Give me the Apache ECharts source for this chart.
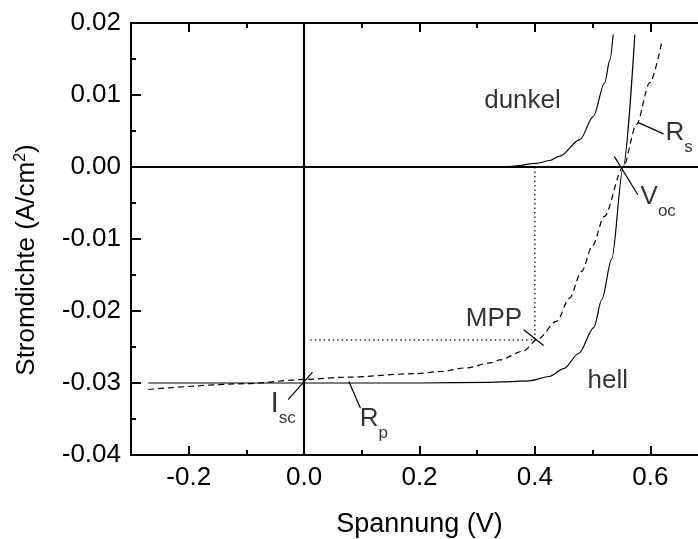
<!DOCTYPE html>
<html>
<head>
<meta charset="utf-8">
<script src="https://cdn.jsdelivr.net/npm/echarts@6/dist/echarts.min.js"></script>
<style>
    html, body { margin: 0; padding: 0; background: #ffffff; }
    #chart { width: 698px; height: 539px; }
</style>
</head>
<body>
<div id="chart"></div>
<script>
// Kennlinien, aus dem Bild abgelesen
// dunkel
var vDunkel = [0.34, 0.36, 0.403, 0.426, 0.443, 0.478, 0.501, 0.521, 0.530, 0.5356];
var jDunkel = [0.0, 0.0001, 0.0005, 0.0009, 0.0015, 0.0038, 0.0070, 0.0117, 0.0149, 0.0184];
// hell (ideal, durchgezogen)
var vHell = [-0.27, 0.0, 0.2, 0.32, 0.36, 0.39, 0.425, 0.45, 0.476, 0.502, 0.516, 0.533, 0.553, 0.5732];
var jHell = [-0.0300, -0.0300, -0.0300, -0.0299, -0.0298, -0.0297, -0.0291, -0.0280, -0.0259, -0.0223, -0.0184, -0.0128, 0.0, 0.0184];
// hell (real, gestrichelt)
var vReal = [-0.27, -0.1, 0.0, 0.071, 0.194, 0.2365, 0.281, 0.323, 0.339, 0.379, 0.405, 0.438, 0.46, 0.481, 0.50, 0.52, 0.553, 0.576, 0.599, 0.62];
var jReal = [-0.0309, -0.0301, -0.0295, -0.0292, -0.0287, -0.0284, -0.0279, -0.0272, -0.0268, -0.0256, -0.0239, -0.0214, -0.0182, -0.0145, -0.0109, -0.0069, 0.0, 0.0059, 0.0117, 0.0174];
// MPP Hilfslinien (gepunktet)
var vMpp = [0.40, 0.40, 0.01];
var jMpp = [0.0, -0.024, -0.024];

// Achsen
var xMajor = [-0.2, 0.0, 0.2, 0.4, 0.6];
var xMinor = [-0.1, 0.1, 0.3, 0.5, 0.7];

// Markierungsstriche [x1, y1, x2, y2]
var marker = [
    [-0.0276, -0.0323, 0.0146, -0.0285],   // Isc
    [0.0775, -0.0298, 0.0977, -0.0335],    // Rp
    [0.3805, -0.0226, 0.4152, -0.0248],    // MPP
    [0.5376, 0.00147, 0.5784, -0.00385],   // Voc
    [0.5784, 0.0062, 0.6229, 0.0046]       // Rs
];

// Beschriftungen
var labelText = ['dunkel', 'hell', 'MPP', '{b|R}{s|s}', '{b|V}{s|oc}', '{b|R}{s|p}', '{i|I}{t|sc}'];
var labelX = [0.3121, 0.4913, 0.2801, 0.6264, 0.5831, 0.0965, -0.0584];
var labelY = [0.01097, -0.0279, -0.01926, 0.00649, -0.00232, -0.0332, -0.03079];

function pairs(xs, ys) {
    return xs.map(function (x, i) { return [x, ys[i]]; });
}

var font = 'Liberation Sans';
var myChart = echarts.init(document.getElementById('chart'));

var tickBase = {
    type: 'value',
    min: -0.3,
    max: 0.7,
    interval: 0.1,
    splitLine: { show: false },
    axisLine: { show: true, onZero: false, lineStyle: { color: '#000', width: 2 } }
};

var option = {
    animation: false,
    backgroundColor: '#ffffff',
    grid: { left: 131, right: -10, top: 23, bottom: 84, outerBoundsMode: 'none', containLabel: false },
    xAxis: [
        Object.assign({}, tickBase, {
            position: 'bottom',
            name: 'Spannung (V)',
            nameLocation: 'middle',
            nameGap: 56,
            nameTextStyle: { fontFamily: font, fontSize: 27, color: '#000' },
            axisTick: { inside: true, length: 9, customValues: xMajor, lineStyle: { color: '#000', width: 2 } },
            axisLabel: {
                customValues: xMajor,
                margin: 10,
                fontFamily: font, fontSize: 26, color: '#000',
                formatter: function (v) { return v.toFixed(1); }
            }
        }),
        Object.assign({}, tickBase, {
            position: 'top',
            axisTick: { inside: true, length: 9, customValues: xMajor, lineStyle: { color: '#000', width: 2 } },
            axisLabel: { show: false }
        }),
        Object.assign({}, tickBase, {
            position: 'bottom',
            axisTick: { inside: true, length: 5, customValues: xMinor, lineStyle: { color: '#000', width: 2 } },
            axisLabel: { show: false }
        }),
        Object.assign({}, tickBase, {
            position: 'top',
            axisTick: { inside: true, length: 5, customValues: xMinor, lineStyle: { color: '#000', width: 2 } },
            axisLabel: { show: false }
        })
    ],
    yAxis: [{
        type: 'value',
        min: -0.04,
        max: 0.02,
        interval: 0.01,
        name: 'Stromdichte (A/cm{sup|2})',
        nameLocation: 'middle',
        nameGap: 90,
        nameTextStyle: {
            fontFamily: font, fontSize: 26, color: '#000',
            padding: [0, 42, 0, 0],
            rich: { sup: { fontFamily: font, fontSize: 16, verticalAlign: 'top', padding: [0, 0, 12, 0] } }
        },
        splitLine: { show: false },
        axisLine: { show: true, onZero: false, lineStyle: { color: '#000', width: 2 } },
        axisTick: { inside: true, length: 10, lineStyle: { color: '#000', width: 2 } },
        minorTick: { show: true, splitNumber: 2, length: 5, lineStyle: { color: '#000', width: 2 } },
        axisLabel: {
            margin: 10,
            fontFamily: font, fontSize: 26, color: '#000',
            formatter: function (v) { return v.toFixed(2); }
        }
    }],
    series: [
        {
            name: 'dunkel',
            type: 'line',
            data: pairs(vDunkel, jDunkel),
            showSymbol: false,
            smooth: 0.3,
            smoothMonotone: 'x',
            lineStyle: { color: '#000', width: 1.2 },
            // Nulllinien
            markLine: {
                silent: true,
                symbol: 'none',
                label: { show: false },
                lineStyle: { color: '#000', width: 2.2, type: 'solid' },
                data: [{ xAxis: 0 }, { yAxis: 0 }]
            },
            z: 3
        },
        {
            name: 'hell',
            type: 'line',
            data: pairs(vHell, jHell),
            showSymbol: false,
            smooth: 0.3,
            smoothMonotone: 'x',
            lineStyle: { color: '#000', width: 1.2 },
            z: 3
        },
        {
            name: 'hell real',
            type: 'line',
            data: pairs(vReal, jReal),
            showSymbol: false,
            smooth: 0.3,
            smoothMonotone: 'x',
            lineStyle: { color: '#000', width: 1.2, type: [6, 4] },
            z: 3
        },
        {
            name: 'MPP',
            type: 'line',
            data: pairs(vMpp, jMpp),
            showSymbol: false,
            lineStyle: { color: '#000', width: 1.2, type: [1.5, 3] },
            z: 2
        },
        {
            name: 'Marker',
            type: 'lines',
            coordinateSystem: 'cartesian2d',
            data: marker.map(function (m) { return { coords: [[m[0], m[1]], [m[2], m[3]]] }; }),
            lineStyle: { color: '#000', width: 1.2, opacity: 1 },
            z: 4
        },
        {
            name: 'Text',
            type: 'scatter',
            symbolSize: 0,
            data: labelText.map(function (t, i) { return { value: [labelX[i], labelY[i]], name: t }; }),
            label: {
                show: true,
                position: 'inside',
                align: 'left',
                verticalAlign: 'top',
                fontFamily: font,
                fontSize: 26,
                color: '#000',
                formatter: function (p) { return p.name; },
                rich: {
                    b: { fontFamily: font, fontSize: 26, color: '#000', verticalAlign: 'top', lineHeight: 30 },
                    s: { fontFamily: font, fontSize: 17, color: '#000', verticalAlign: 'top', lineHeight: 18, padding: [19, 0, 0, 0] },
                    i: { fontFamily: font, fontSize: 30, color: '#000', verticalAlign: 'top', lineHeight: 32 },
                    t: { fontFamily: font, fontSize: 17, color: '#000', verticalAlign: 'top', lineHeight: 18, padding: [21, 0, 0, 0] }
                }
            },
            z: 5
        }
    ]
};

myChart.setOption(option);
window.onresize = function () {
    myChart.resize();
};
</script>
</body>
</html>
